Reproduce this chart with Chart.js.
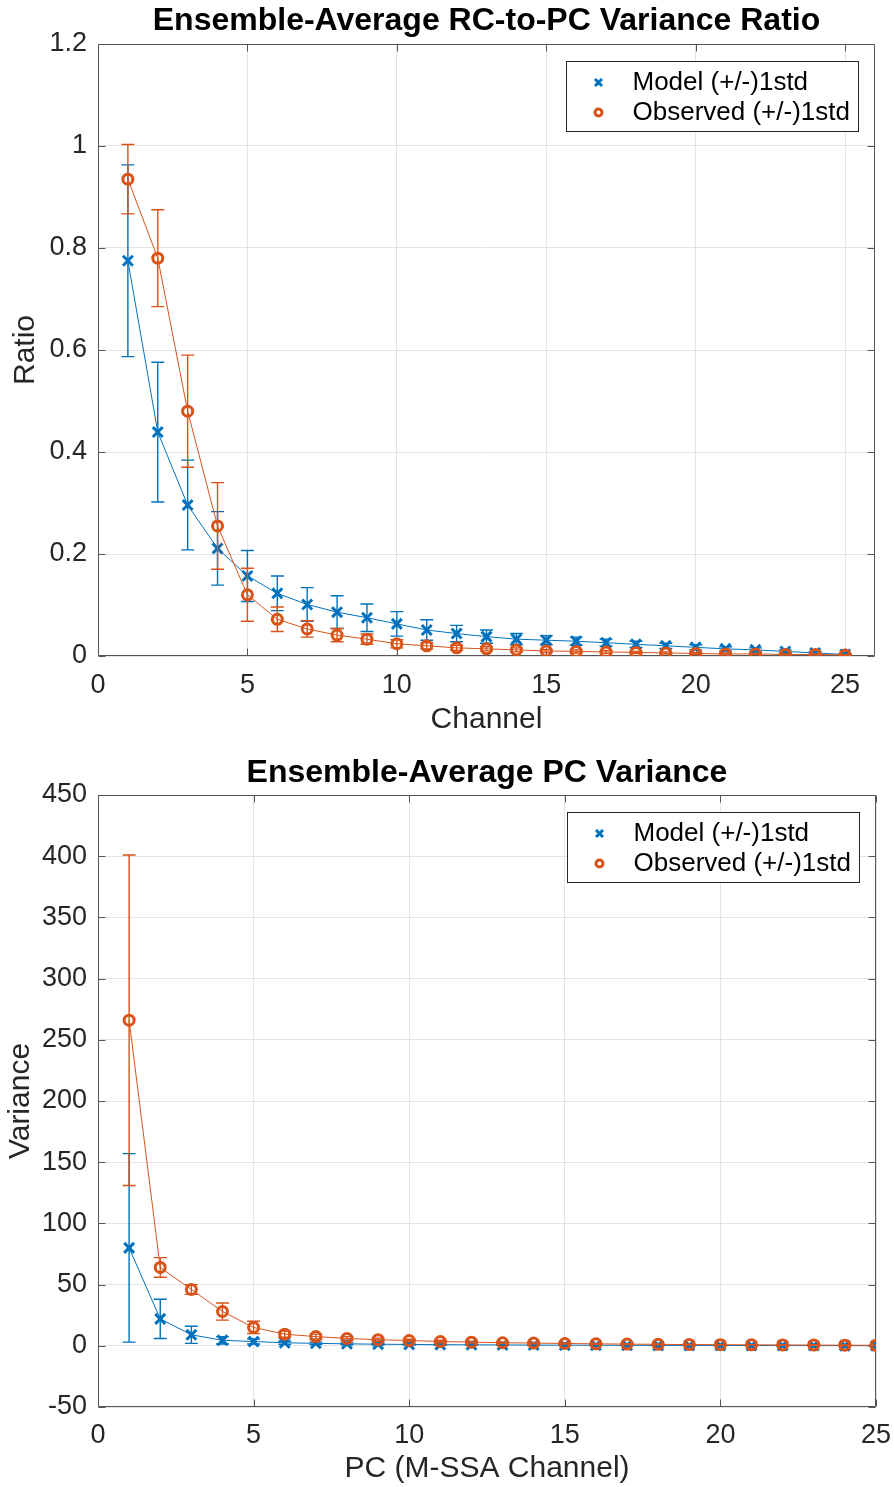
<!DOCTYPE html>
<html>
<head>
<meta charset="utf-8">
<title>Ensemble-Average Variance</title>
<script src="https://cdn.jsdelivr.net/npm/chart.js@4.4.1/dist/chart.umd.min.js"></script>
<style>
    html, body { margin: 0; padding: 0; background: #ffffff; }
    canvas { display: block; }
</style>
</head>
<body>
<canvas id="ratioChart" width="894" height="745"></canvas>
<canvas id="varianceChart" width="894" height="742"></canvas>
<script>
// ---------- DADOS ----------
const channels = [1, 2, 3, 4, 5, 6, 7, 8, 9, 10, 11, 12, 13, 14, 15, 16, 17, 18, 19, 20, 21, 22, 23, 24, 25];

// RC-to-PC variance ratio
const ratioModel = [0.775, 0.439, 0.296, 0.211, 0.157, 0.123, 0.101, 0.086, 0.075, 0.063, 0.051, 0.044, 0.038,
    0.033, 0.031, 0.029, 0.026, 0.023, 0.020, 0.017, 0.014, 0.012, 0.009, 0.006, 0.003];
const ratioModelStd = [0.188, 0.137, 0.088, 0.072, 0.050, 0.034, 0.033, 0.032, 0.027, 0.024, 0.020, 0.016, 0.013,
    0.011, 0.009, 0.008, 0.007, 0.006, 0.005, 0.005, 0.004, 0.004, 0.003, 0.003, 0.002];
const ratioObs = [0.935, 0.780, 0.480, 0.255, 0.120, 0.072, 0.053, 0.041, 0.033, 0.024, 0.020, 0.016, 0.014,
    0.012, 0.010, 0.009, 0.008, 0.007, 0.006, 0.005, 0.004, 0.004, 0.003, 0.003, 0.002];
const ratioObsStd = [0.068, 0.095, 0.110, 0.085, 0.052, 0.024, 0.016, 0.013, 0.010, 0.008, 0.006, 0.005, 0.004,
    0.004, 0.003, 0.003, 0.003, 0.002, 0.002, 0.002, 0.002, 0.001, 0.001, 0.001, 0.001];

// PC variance
const varModel = [80, 22, 9, 4.5, 3.5, 2.5, 2, 1.6, 1.3, 1.1, 0.9, 0.8, 0.7,
    0.6, 0.5, 0.45, 0.4, 0.35, 0.3, 0.27, 0.23, 0.2, 0.17, 0.14, 0.1];
const varModelStd = [77, 16, 7, 3, 2, 1.2, 1, 0.8, 0.6, 0.5, 0.4, 0.4, 0.3,
    0.3, 0.2, 0.2, 0.2, 0.2, 0.1, 0.1, 0.1, 0.1, 0.1, 0.1, 0.1];
const varObs = [266, 64, 46, 28, 15, 9.5, 7.5, 6, 5, 4.3, 3.5, 3, 2.5,
    2.2, 1.9, 1.6, 1.4, 1.2, 1.0, 0.9, 0.8, 0.7, 0.6, 0.5, 0.4];
const varObsStd = [135, 8, 4, 7, 5, 2.5, 2, 1.5, 1.3, 1.1, 1, 0.8, 0.7,
    0.6, 0.5, 0.4, 0.4, 0.3, 0.3, 0.3, 0.2, 0.2, 0.2, 0.2, 0.1];

// eixos
const channelTicks = [0, 5, 10, 15, 20, 25];
const ratioTicks = [0, 0.2, 0.4, 0.6, 0.8, 1, 1.2];
const varianceTicks = [-50, 0, 50, 100, 150, 200, 250, 300, 350, 400, 450];

const seriesLabels = ['Model (+/-)1std', 'Observed (+/-)1std'];

// ---------- ESTILO ----------
const BLUE = '#0072BD';
const ORANGE = '#D95319';
const AXIS_COLOR = '#555555';
const GRID_COLOR = '#e4e4e4';
const TEXT_COLOR = '#262626';
const FONT = '"Liberation Sans", Arial, Helvetica, sans-serif';

Chart.defaults.font.family = FONT;
Chart.defaults.color = TEXT_COLOR;

// barras de erro desenhadas antes de cada série (mesma camada da série)
const errorBarPlugin = {
    id: 'errorBars',
    beforeDatasetDraw(chart, args) {
        const ds = chart.data.datasets[args.index];
        if (!ds.errors) return;
        const { ctx, chartArea, scales: { x, y } } = chart;
        const cap = 6.5;
        ctx.save();
        ctx.beginPath();
        ctx.rect(chartArea.left, chartArea.top, chartArea.width, chartArea.height);
        ctx.clip();
        ctx.strokeStyle = ds.borderColor;
        ctx.lineWidth = 1.4;
        ds.data.forEach((p, i) => {
            const err = ds.errors[i];
            const px = x.getPixelForValue(p.x);
            const top = y.getPixelForValue(p.y + err);
            const bot = y.getPixelForValue(p.y - err);
            ctx.beginPath();
            ctx.moveTo(px, top);
            ctx.lineTo(px, bot);
            ctx.moveTo(px - cap, top);
            ctx.lineTo(px + cap, top);
            ctx.moveTo(px - cap, bot);
            ctx.lineTo(px + cap, bot);
            ctx.stroke();
        });
        ctx.restore();
    }
};

// moldura estilo MATLAB (box on, ticks para dentro)
const framePlugin = {
    id: 'frame',
    beforeDatasetsDraw(chart) {
        const { ctx, chartArea: a, scales: { x, y } } = chart;
        const L = Math.round(a.left) + 0.5, R = Math.round(a.right) - 0.5;
        const T = Math.round(a.top) + 0.5, B = Math.round(a.bottom) - 0.5;
        const len = 7;
        ctx.save();
        ctx.strokeStyle = AXIS_COLOR;
        ctx.lineWidth = 1;
        ctx.beginPath();
        ctx.rect(L, T, R - L, B - T);
        y.ticks.forEach(t => {
            const py = Math.round(y.getPixelForValue(t.value)) + 0.5;
            ctx.moveTo(L, py); ctx.lineTo(L + len, py);
            ctx.moveTo(R, py); ctx.lineTo(R - len, py);
        });
        x.ticks.forEach(t => {
            const px = Math.round(x.getPixelForValue(t.value)) + 0.5;
            ctx.moveTo(px, B); ctx.lineTo(px, B - len);
            ctx.moveTo(px, T); ctx.lineTo(px, T + len);
        });
        ctx.stroke();
        ctx.restore();
    }
};

// legenda com caixa, dentro da área do gráfico
const legendBoxPlugin = {
    id: 'legendBox',
    afterDraw(chart, args, opts) {
        const { ctx, chartArea: a } = chart;
        const left = Math.round(a.right - opts.offsetRight) + 0.5;
        const top = Math.round(a.top + opts.offsetTop) + 0.5;
        ctx.save();
        ctx.fillStyle = '#ffffff';
        ctx.fillRect(left, top, opts.width, opts.height);
        ctx.strokeStyle = '#262626';
        ctx.lineWidth = 1;
        ctx.strokeRect(left, top, opts.width, opts.height);
        ctx.font = `${opts.fontSize}px ${FONT}`;
        ctx.textBaseline = 'middle';
        chart.data.datasets.forEach((ds, i) => {
            const rowY = top + opts.rows[i];
            const mx = left + opts.markerX;
            ctx.strokeStyle = ds.borderColor;
            ctx.lineWidth = 3;
            ctx.beginPath();
            if (ds.pointStyle === 'circle') {
                ctx.arc(mx, rowY, 3.5, 0, Math.PI * 2);
            } else {
                const d = 3.5;
                ctx.moveTo(mx - d, rowY - d); ctx.lineTo(mx + d, rowY + d);
                ctx.moveTo(mx + d, rowY - d); ctx.lineTo(mx - d, rowY + d);
            }
            ctx.stroke();
            ctx.fillStyle = '#000000';
            ctx.fillText(ds.label, left + opts.textX, rowY);
        });
        ctx.restore();
    }
};

function toPoints(values) {
    return channels.map((c, i) => ({ x: c, y: values[i] }));
}

function fixedTicks(values) {
    return scale => { scale.ticks = values.map(v => ({ value: v })); };
}

function tickLabel(v) {
    return String(Math.round(v * 1000) / 1000);
}

function buildChart(canvasId, cfg) {
    const ctx = document.getElementById(canvasId).getContext('2d');
    return new Chart(ctx, {
        type: 'line',
        data: {
            datasets: [
                {
                    label: seriesLabels[0],
                    data: toPoints(cfg.model),
                    errors: cfg.modelStd,
                    borderColor: BLUE,
                    backgroundColor: BLUE,
                    borderWidth: 1,
                    pointStyle: 'crossRot',
                    pointRadius: 7,
                    pointBorderWidth: 3,
                    pointBorderColor: BLUE,
                    order: 1
                },
                {
                    label: seriesLabels[1],
                    data: toPoints(cfg.obs),
                    errors: cfg.obsStd,
                    borderColor: ORANGE,
                    backgroundColor: 'rgba(0,0,0,0)',
                    borderWidth: 1,
                    pointStyle: 'circle',
                    pointRadius: 5,
                    pointBorderWidth: 3,
                    pointBorderColor: ORANGE,
                    pointBackgroundColor: 'rgba(0,0,0,0)',
                    order: 0
                }
            ]
        },
        options: {
            responsive: false,
            animation: false,
            layout: { padding: { left: 0, right: cfg.padRight, top: 0, bottom: 0 } },
            plugins: {
                legend: { display: false },
                tooltip: { enabled: false },
                title: {
                    display: true,
                    text: cfg.title,
                    fullSize: false,
                    color: '#000000',
                    font: { size: 32, weight: 'bold' },
                    padding: cfg.titlePadding
                },
                legendBox: {
                    offsetRight: 309,
                    offsetTop: 17,
                    width: 292,
                    height: 70,
                    rows: [21, 51],
                    markerX: 32,
                    textX: 66,
                    fontSize: 26
                }
            },
            scales: {
                x: {
                    type: 'linear',
                    min: 0,
                    max: cfg.xMax,
                    afterBuildTicks: fixedTicks(channelTicks),
                    afterFit: s => {
                        s.height = cfg.xAxisHeight;
                        s.paddingLeft = 0;
                        s.paddingRight = 0;
                    },
                    ticks: { font: { size: 27 }, padding: cfg.xTickPad, maxRotation: 0, callback: tickLabel },
                    grid: { color: GRID_COLOR, drawTicks: false },
                    border: { display: false },
                    title: {
                        display: true,
                        text: cfg.xLabel,
                        font: { size: 30 },
                        color: TEXT_COLOR,
                        padding: { top: 0, bottom: cfg.xTitlePad }
                    }
                },
                y: {
                    type: 'linear',
                    min: cfg.yTicks[0],
                    max: cfg.yTicks[cfg.yTicks.length - 1],
                    afterBuildTicks: fixedTicks(cfg.yTicks),
                    afterFit: s => {
                        s.width = 98;
                        s.paddingTop = 0;
                        s.paddingBottom = 0;
                    },
                    ticks: { font: { size: 27 }, padding: 11, callback: tickLabel },
                    grid: { color: GRID_COLOR, drawTicks: false },
                    border: { display: false },
                    title: {
                        display: true,
                        text: cfg.yLabel,
                        font: { size: 30 },
                        color: TEXT_COLOR,
                        padding: { top: cfg.yTitlePad, bottom: 0 }
                    }
                }
            }
        },
        plugins: [framePlugin, errorBarPlugin, legendBoxPlugin]
    });
}

buildChart('ratioChart', {
    title: 'Ensemble-Average RC-to-PC Variance Ratio',
    titlePadding: { top: 2, bottom: 3.6 },
    xLabel: 'Channel',
    yLabel: 'Ratio',
    xMax: 26,
    yTicks: ratioTicks,
    model: ratioModel, modelStd: ratioModelStd,
    obs: ratioObs, obsStd: ratioObsStd,
    padRight: 19,
    xAxisHeight: 89,
    xTickPad: 13,
    xTitlePad: 7,
    yTitlePad: 8
});

buildChart('varianceChart', {
    title: 'Ensemble-Average PC Variance',
    titlePadding: { top: 9, bottom: 2.6 },
    xLabel: 'PC (M-SSA Channel)',
    yLabel: 'Variance',
    xMax: 25,
    yTicks: varianceTicks,
    model: varModel, modelStd: varModelStd,
    obs: varObs, obsStd: varObsStd,
    padRight: 18,
    xAxisHeight: 80,
    xTickPad: 12,
    xTitlePad: 0,
    yTitlePad: 3
});
</script>
</body>
</html>
